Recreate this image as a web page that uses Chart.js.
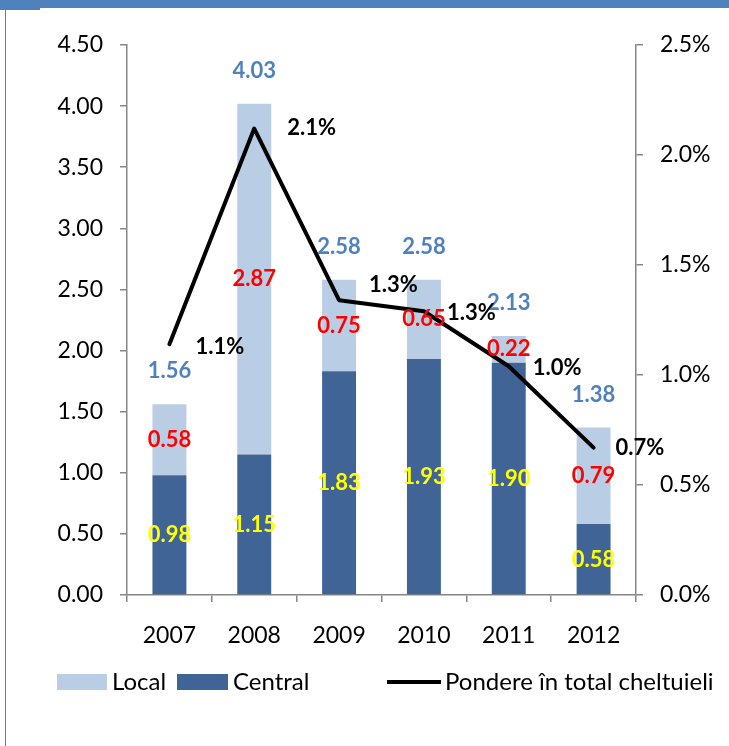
<!DOCTYPE html>
<html lang="ro">
<head>
  <meta charset="UTF-8">
  <title>Cheltuieli</title>
  <script src="https://cdn.jsdelivr.net/npm/chart.js"></script>
  <style>
    html, body { margin: 0; padding: 0; background: #fff; }
    #wrap { width: 729px; height: 746px; }
  </style>
</head>
<body>
  <div id="wrap"><canvas id="chart" width="729" height="746"></canvas></div>

  <script>
    const years = ['2007', '2008', '2009', '2010', '2011', '2012'];
    const central = [0.98, 1.15, 1.83, 1.93, 1.90, 0.58];
    const local = [0.58, 2.87, 0.75, 0.65, 0.22, 0.79];
    const totals = ['1.56', '4.03', '2.58', '2.58', '2.13', '1.38'];
    const pondere = [1.14, 2.12, 1.34, 1.29, 1.04, 0.67];

    const FONT = 'Lato, "Open Sans", sans-serif';
    const AXIS = '#868686';

    // frame: blue strip on top and thin line on the left
    const framePlugin = {
      id: 'frame',
      beforeDraw(chart) {
        const c = chart.ctx;
        c.save();
        c.fillStyle = '#fff';
        c.fillRect(0, 0, chart.width, chart.height);
        c.fillStyle = '#4F81BD';
        c.fillRect(0, 0, chart.width, 8);
        c.fillRect(0, 0, 40, 10);
        c.fillRect(5, 0, 1, chart.height);
        c.restore();
      }
    };

    const labelsPlugin = {
      id: 'valueLabels',
      afterDatasetsDraw(chart) {
        const c = chart.ctx;
        const y = chart.scales.y;
        const y2 = chart.scales.y2;
        const x = chart.scales.x;
        c.save();
        c.font = 'bold 22px ' + FONT;
        c.textBaseline = 'middle';
        c.textAlign = 'center';
        years.forEach((yr, i) => {
          const cx = x.getPixelForValue(i);
          const cTop = y.getPixelForValue(central[i]);
          const tTop = y.getPixelForValue(central[i] + local[i]);
          c.fillStyle = '#FFFF00';
          c.fillText(central[i].toFixed(2), cx, (y.bottom + cTop) / 2);
          c.fillStyle = '#FF0000';
          c.fillText(local[i].toFixed(2), cx, (cTop + tTop) / 2);
          c.fillStyle = '#4F81BD';
          c.fillText(totals[i], cx, tTop - 33);
        });
        // line labels, right of each point
        const shift = [[26, 3], [33, -1], [30, -15], [23, 2], [24, 2], [22, 0]];
        c.textAlign = 'left';
        c.fillStyle = '#000';
        years.forEach((yr, i) => {
          const px = x.getPixelForValue(i);
          const py = y2.getPixelForValue(pondere[i]);
          c.fillText(pondere[i].toFixed(1) + '%', px + shift[i][0], py + shift[i][1]);
        });
        c.restore();
      }
    };

    const legendPlugin = {
      id: 'bottomLegend',
      afterDraw(chart) {
        const c = chart.ctx;
        const ly = 682;
        c.save();
        c.font = '24px ' + FONT;
        c.textBaseline = 'middle';
        c.textAlign = 'left';
        c.fillStyle = '#B9CDE5';
        c.fillRect(57, ly - 8, 50, 16);
        c.fillStyle = '#3F6495';
        c.fillRect(177, ly - 8, 51, 16);
        c.fillStyle = '#000';
        c.fillText('Local', 112, ly);
        c.fillText('Central', 233, ly);
        c.strokeStyle = '#000';
        c.lineWidth = 4;
        c.beginPath();
        c.moveTo(387, ly);
        c.lineTo(441, ly);
        c.stroke();
        c.fillText('Pondere în total cheltuieli', 445, ly);
        c.restore();
      }
    };

    new Chart(document.getElementById('chart'), {
      data: {
        labels: years,
        datasets: [
          {
            type: 'line',
            label: 'Pondere în total cheltuieli',
            data: pondere,
            yAxisID: 'y2',
            borderColor: '#000',
            borderWidth: 4,
            borderCapStyle: 'round',
            borderJoinStyle: 'round',
            pointRadius: 0,
            tension: 0,
            order: 0
          },
          {
            type: 'bar',
            label: 'Central',
            data: central,
            backgroundColor: '#3F6495',
            stack: 's',
            barPercentage: 0.4,
            categoryPercentage: 1,
            order: 1
          },
          {
            type: 'bar',
            label: 'Local',
            data: local,
            backgroundColor: '#B9CDE5',
            stack: 's',
            barPercentage: 0.4,
            categoryPercentage: 1,
            order: 1
          }
        ]
      },
      options: {
        responsive: false,
        animation: false,
        layout: { padding: { top: 45, left: 0, right: 0, bottom: 0 } },
        plugins: {
          legend: { display: false },
          tooltip: { enabled: false }
        },
        scales: {
          x: {
            stacked: true,
            grid: { offset: true, drawOnChartArea: false, tickLength: 7, color: AXIS, lineWidth: 1.5 },
            border: { color: AXIS, width: 1.5 },
            ticks: { color: '#000', font: { family: FONT, size: 23 }, padding: 20 },
            afterFit(s) { s.height = 151; }
          },
          y: {
            position: 'left',
            stacked: true,
            min: 0,
            max: 4.5,
            grid: { drawOnChartArea: false, tickLength: 7, color: AXIS, lineWidth: 1.5 },
            border: { color: AXIS, width: 1.5 },
            ticks: {
              stepSize: 0.5,
              color: '#000',
              font: { family: FONT, size: 23 },
              padding: 17,
              callback: v => v.toFixed(2)
            },
            afterFit(s) { s.width = 127; }
          },
          y2: {
            position: 'right',
            min: 0,
            max: 2.5,
            grid: { drawOnChartArea: false, tickLength: 7, color: AXIS, lineWidth: 1.5 },
            border: { color: AXIS, width: 1.5 },
            ticks: {
              stepSize: 0.5,
              color: '#000',
              font: { family: FONT, size: 23 },
              padding: 17,
              callback: v => v.toFixed(1) + '%'
            },
            afterFit(s) { s.width = 93; }
          }
        }
      },
      plugins: [framePlugin, labelsPlugin, legendPlugin]
    });
  </script>
</body>
</html>
